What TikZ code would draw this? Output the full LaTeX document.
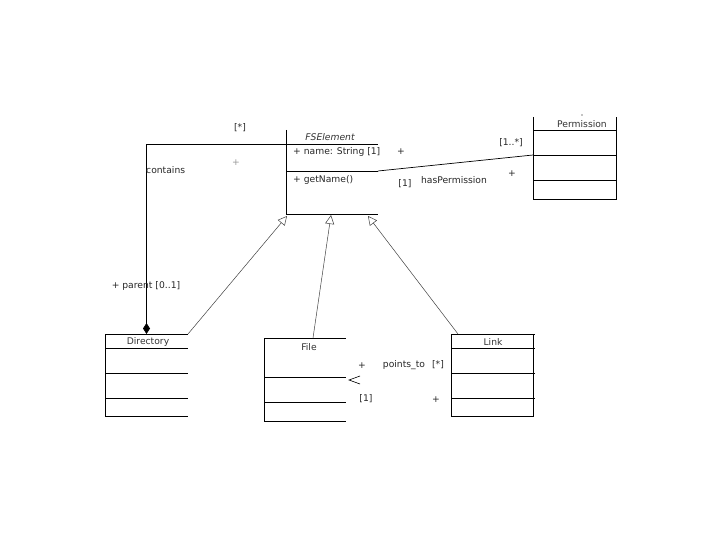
\documentclass[tikz,border=0pt]{standalone}
\usepackage{fontspec}
\setmainfont{DejaVu Sans}
\usetikzlibrary{arrows.meta}

\begin{document}
\begin{tikzpicture}[x=1pt, y=-1pt,
    font=\fontsize{9.2}{10}\selectfont,
    cls/.style={rectangle, draw=none, inner sep=0pt, outer sep=0pt},
    ttl/.style={inner sep=0pt, text=black!80},
    lbl/.style={inner sep=0pt, text=black!85},
    ln/.style={line width=0.8pt, black},
    gen/.style={-{Triangle[open, length=9pt, width=9pt]}, line width=0.5pt, black!75},
    comp/.style={-{Diamond[length=11pt, width=7pt]}, line width=0.8pt, black}
]
\useasboundingbox (0,0) rectangle (720,540);

% class boxes
\node[cls, minimum width=92pt, minimum height=84pt] (fse) at (332,172) {};
\node[cls, minimum width=83pt, minimum height=82pt] (perm) at (574.5,158) {};
\node[cls, minimum width=83pt, minimum height=82pt] (dir) at (146.5,375) {};
\node[cls, minimum width=82pt, minimum height=83pt] (file) at (305,379.5) {};
\node[cls, minimum width=82pt, minimum height=82pt] (link) at (492,375) {};

% FSElement
\draw[ln] (fse.north west) -- (fse.south west) -- (fse.south east);
\foreach \d in {14,41}
  \draw[ln] ([yshift=-\d pt]fse.north west) -- ([yshift=-\d pt]fse.north east);
\node[ttl, font=\fontsize{9.2}{10}\selectfont\itshape] (fseT) at (330,137.5) {FSElement};
\node[lbl, anchor=west] (fseA) at (293,152) {+ name: String [1]};
\node[lbl, anchor=west] (fseO) at (293,180) {+ getName()};

% Permission
\draw[ln] (perm.north west) -- (perm.south west) -- (perm.south east) -- (perm.north east);
\foreach \d in {13,38,63}
  \draw[ln] ([yshift=-\d pt]perm.north west) -- ([yshift=-\d pt]perm.north east);
\node[ttl] (permT) at (582,124.5) {Permission};
\fill (582,115) circle (0.6pt);

% Directory
\draw[ln] (dir.north west) -- (dir.south west) -- (dir.south east);
\foreach \d in {0,14,39,64}
  \draw[ln] ([yshift=-\d pt]dir.north west) -- ([yshift=-\d pt]dir.north east);
\node[ttl] (dirT) at (148,342) {Directory};

% File
\draw[ln] (file.north west) -- (file.south west) -- (file.south east);
\foreach \d in {0,39,64}
  \draw[ln] ([yshift=-\d pt]file.north west) -- ([yshift=-\d pt]file.north east);
\node[ttl] (fileT) at (309,347) {File};

% Link
\draw[ln] (link.north west) -- (link.south west) -- (link.south east) -- (link.north east);
\foreach \d in {0,14,39,64}
  \draw[ln] ([yshift=-\d pt]link.north west) -- ([xshift=2pt, yshift=-\d pt]link.north east);
\node[ttl] (linkT) at (493,342) {Link};

% contains
\draw[comp] ([yshift=-14pt]fse.north west) -| (dir.north);
\node[lbl] (cStar) at (240,128) {[*]};
\node[lbl, text=black!40] (cPlus) at (236,163) {+};
\node[lbl, anchor=west] (cName) at (146,170) {contains};
\node[lbl] (cParent) at (146,286) {+ parent [0..1]};

% hasPermission
\draw[line width=0.7pt] ([yshift=-41pt]fse.north east) -- ([yshift=-38pt]perm.north west);
\node[lbl] (pPlusA) at (401,152) {+};
\node[lbl] (pMultA) at (511,143) {[1..*]};
\node[lbl] (pMultB) at (405,184) {[1]};
\node[lbl] (pName) at (454,180) {hasPermission};
\node[lbl] (pPlusB) at (512,174) {+};

% generalizations
\draw[gen] (dir.north east) -- ([shift={(1pt,-2pt)}]fse.south west);
\draw[gen] ([xshift=8pt]file.north) -- ([shift={(-1pt,-1pt)}]fse.south);
\draw[gen] ([xshift=7pt]link.north west) -- ([shift={(-10pt,-2pt)}]fse.south east);

% points_to
\draw[line width=0.6pt] ([shift={(14pt,3.5pt)}]file.east) -- ([shift={(3pt,-0.5pt)}]file.east)
  -- ([shift={(14pt,-4.5pt)}]file.east);
\node[lbl] (tPlusA) at (362,366) {+};
\node[lbl] (tName) at (404,365) {points\_to};
\node[lbl] (tMultA) at (438,365) {[*]};
\node[lbl] (tMultB) at (366,399) {[1]};
\node[lbl] (tPlusB) at (436,400) {+};
\end{tikzpicture}
\end{document}
